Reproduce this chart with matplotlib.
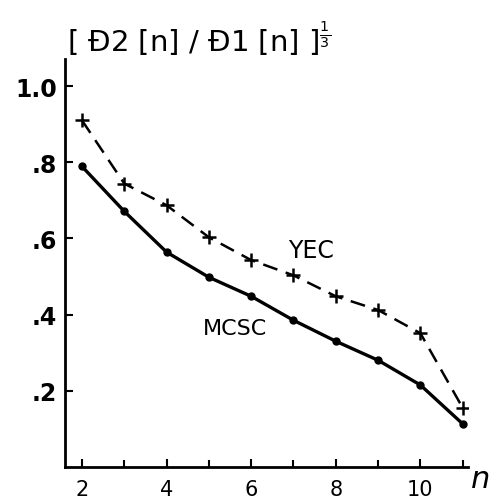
import matplotlib
matplotlib.use("Agg")
import matplotlib.pyplot as plt

n = [2, 3, 4, 5, 6, 7, 8, 9, 10, 11]
mcsc = [0.789, 0.671, 0.564, 0.498, 0.448, 0.385, 0.330, 0.280, 0.215, 0.113]
yec = [0.910, 0.744, 0.687, 0.603, 0.543, 0.503, 0.448, 0.412, 0.351, 0.155]
xtick_vals = [2, 4, 6, 8, 10]
xtick_labels = ["2", "4", "6", "8", "10"]
ytick_vals = [0.2, 0.4, 0.6, 0.8, 1.0]
ytick_labels = [".2", ".4", ".6", ".8", "1.0"]

plt.rcParams['font.family'] = ['DejaVu Sans']
fig = plt.figure(figsize=(4.97, 5.02), dpi=100)
ax = fig.add_axes([0.131, 0.068, 0.811, 0.813])

ax.plot(n, mcsc, color='black', lw=2.4, marker='o', ms=5, solid_capstyle='round')
ax.plot(n, yec, color='black', lw=1.8, ls=(0, (6, 3.5)), marker='+', ms=10, mew=1.8)

ax.set_xlim(1.60, 11.13)
ax.set_ylim(0.0, 1.072)
ax.set_xticks(xtick_vals)
ax.set_xticklabels(xtick_labels, fontsize=15)
ax.set_xticks([3, 5, 7, 9, 11], minor=True)
ax.set_yticks(ytick_vals)
ax.set_yticklabels(ytick_labels, fontsize=17, fontweight='bold')
ax.tick_params(axis='both', which='both', direction='in', length=6, width=1.5, pad=6)
ax.tick_params(axis='x', which='minor', length=5)
ax.tick_params(axis='x', pad=9)
for s in ['top', 'right']:
    ax.spines[s].set_visible(False)
for s in ['left', 'bottom']:
    ax.spines[s].set_linewidth(2)

ax.text(6.87, 0.57, "YEC", fontsize=17, ha='left', va='center')
ax.text(4.86, 0.364, "MCSC", fontsize=16, ha='left', va='center')
fig.text(0.135, 0.922, r"[ Đ2 [n] / Đ1 [n] ]$^{\frac{1}{3}}$", fontsize=21, ha='left', va='center')
fig.text(0.965, 0.045, r"$n$", fontsize=22, ha='center', va='center')

fig.savefig("out.png", dpi=100)
